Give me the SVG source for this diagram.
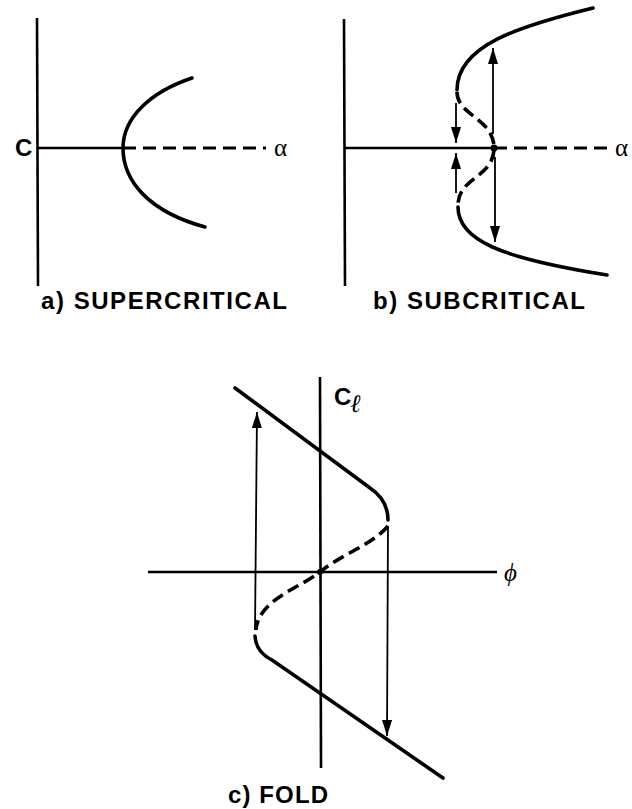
<svg xmlns="http://www.w3.org/2000/svg" width="632" height="809" viewBox="0 0 632 809">
<style>
.ax{stroke:#000;stroke-width:2.6;fill:none}
.cv{stroke:#000;stroke-width:3.6;fill:none;stroke-linecap:round}
.ds{stroke:#000;stroke-width:2.8;fill:none;stroke-dasharray:13 7}
.dc{stroke:#000;stroke-width:3.6;fill:none;stroke-dasharray:12 6}
.ar{stroke:#000;stroke-width:1.8;fill:none;marker-end:url(#ah)}
.lb{font-family:"Liberation Sans",Arial,sans-serif;font-weight:bold;font-size:24px;fill:#000}
.gk{font-family:"Liberation Serif","Times New Roman",serif;font-size:25px;fill:#000}
</style>
<defs>
<marker id="ah" markerUnits="userSpaceOnUse" viewBox="0 0 16 10" refX="16" refY="5" markerWidth="16" markerHeight="10" orient="auto">
<path d="M0,0 L16,5 L0,10 Z" fill="#000"/>
</marker>
</defs>
<rect width="632" height="809" fill="#fff"/>

<g id="panel-a">
<line class="ax" x1="37" y1="18" x2="38" y2="286"/>
<line class="ax" x1="37" y1="148" x2="123" y2="148"/>
<line class="ds" x1="123" y1="148" x2="266" y2="148"/>
<path class="cv" d="M192,78 C150,92 123,118 123,148 C123,182 150,212 205,227"/>
<text class="lb" x="15" y="156" font-size="21">C</text>
<text class="gk" x="274" y="156">α</text>
<text class="lb" x="41" y="309" textLength="246" lengthAdjust="spacing">a)  SUPERCRITICAL</text>
</g>

<g id="panel-b">
<line class="ax" x1="344" y1="19" x2="345" y2="286"/>
<line class="ax" x1="345" y1="148" x2="494" y2="148"/>
<line class="ds" x1="494" y1="148" x2="614" y2="148"/>
<path class="cv" d="M593,8 C520,26 457,45 457,90"/>
<path class="dc" d="M457,92 C457,115 492,118 494,146"/>
<path class="dc" d="M494,150 C492,178 458,178 458,205"/>
<path class="cv" d="M458,207 C458,240 500,258 607,275"/>
<circle cx="494" cy="148" r="3.5" fill="#000"/>
<text class="gk" x="615" y="156">α</text>
<text class="lb" x="373" y="309" textLength="212" lengthAdjust="spacing">b)  SUBCRITICAL</text>
</g>

<g id="panel-c">
<line class="ax" x1="320" y1="377" x2="321" y2="768"/>
<line class="ax" x1="148" y1="572" x2="497" y2="572"/>
<path class="cv" d="M235,388 L370,488 Q388,500 388,520"/>
<path class="dc" d="M388,526 C372,545 340,555 320,572 C300,588 258,600 256,630"/>
<path class="cv" d="M255,636 Q256,652 272,660 L443,778"/>
<circle cx="320" cy="572" r="3" fill="#000"/>
<text class="gk" x="504" y="581" font-style="italic">ϕ</text>
<text class="lb" x="334" y="405" font-size="21">C</text>
<text class="gk" x="350" y="412" font-size="15" font-style="italic">ℓ</text>
<text class="lb" x="228" y="803" textLength="100" lengthAdjust="spacing">c)  FOLD</text>
</g>

<g id="connectors">
<line class="ar" x1="493" y1="134" x2="493" y2="48"/>
<line class="ar" x1="495" y1="157" x2="495" y2="242"/>
<line class="ar" x1="456" y1="103" x2="456" y2="143"/>
<line class="ar" x1="456" y1="193" x2="456" y2="153"/>
<line class="ar" x1="255" y1="630" x2="257" y2="412"/>
<line class="ar" x1="388" y1="526" x2="387" y2="736"/>
</g>
</svg>
